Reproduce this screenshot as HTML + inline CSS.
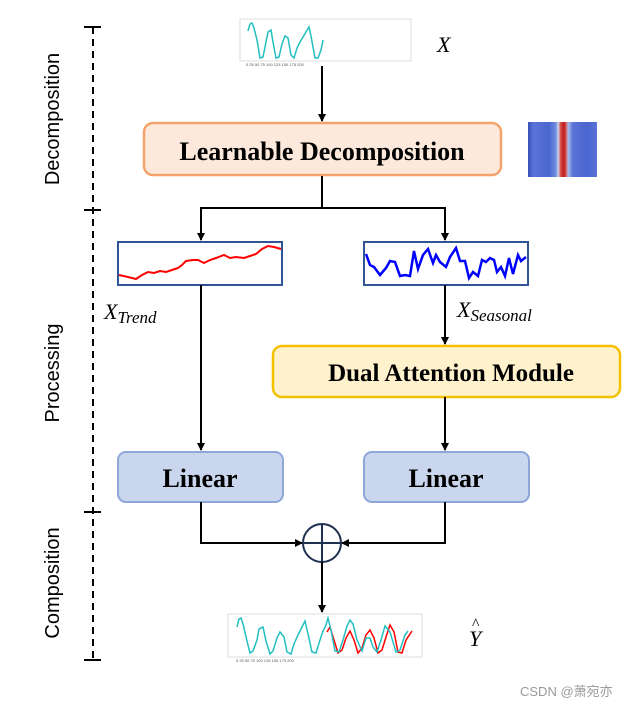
<!DOCTYPE html>
<html><head><meta charset="utf-8"><style>
body{margin:0;background:#fff;width:634px;height:705px;overflow:hidden}
svg{display:block}
</style></head><body>
<svg width="634" height="705" viewBox="0 0 634 705" xmlns="http://www.w3.org/2000/svg">
<defs>
<marker id="ar" markerWidth="8" markerHeight="8" refX="7" refY="4" orient="auto" markerUnits="userSpaceOnUse"><path d="M0,0 L8,4 L0,8 z" fill="#000"/></marker>
<linearGradient id="hm" x1="0" x2="1">
<stop offset="0" stop-color="#3a4fb8"/><stop offset="0.08" stop-color="#5b74d8"/><stop offset="0.3" stop-color="#4a66d0"/><stop offset="0.4" stop-color="#6e8ae0"/><stop offset="0.44" stop-color="#c9d6f2"/><stop offset="0.47" stop-color="#d9534f"/><stop offset="0.52" stop-color="#b81c1c"/><stop offset="0.55" stop-color="#d9534f"/><stop offset="0.58" stop-color="#a9bce8"/><stop offset="0.65" stop-color="#5b74d8"/><stop offset="0.85" stop-color="#4a66d0"/><stop offset="1" stop-color="#5a72d6"/>
</linearGradient>
</defs>
<!-- left axis -->
<line x1="93" y1="27" x2="93" y2="660" stroke="#000" stroke-width="2" stroke-dasharray="7,5"/>
<g stroke="#000" stroke-width="2"><line x1="84" y1="27" x2="101" y2="27"/><line x1="84" y1="210" x2="101" y2="210"/><line x1="84" y1="512" x2="101" y2="512"/><line x1="84" y1="660" x2="101" y2="660"/></g>
<g font-family="Liberation Sans, sans-serif" font-size="20" fill="#000" text-anchor="middle">
<text transform="translate(59,119) rotate(-90)">Decomposition</text>
<text transform="translate(59,373) rotate(-90)">Processing</text>
<text transform="translate(59,583) rotate(-90)">Composition</text>
</g>
<!-- top chart -->
<rect x="240" y="19" width="171" height="42" fill="none" stroke="#ddd"/>
<polyline fill="none" stroke="#22bfc0" stroke-width="1.5" points="248,31 250,24 252,23 254,28 257,40 260,58 263,57 266,42 268,32 271,30 273,42 276,58 279,57 282,44 285,36 288,38 291,55 294,58 297,48 300,42 303,37 306,32 309,27 311,36 315,58 318,58 321,50 323,40"/>
<g font-family="Liberation Sans, sans-serif" font-size="4" fill="#555"><text x="246" y="66">0  25  50  75  100  125  150  175  200</text></g>
<text x="437" y="52" font-family="Liberation Serif, serif" font-style="italic" font-size="22">X</text>
<line x1="322" y1="66" x2="322" y2="121" stroke="#000" stroke-width="2" marker-end="url(#ar)"/>
<!-- learnable decomposition -->
<rect x="144" y="123" width="357" height="52" rx="9" fill="#fde9dc" stroke="#f4a46a" stroke-width="2.5"/>
<text x="322" y="160" text-anchor="middle" font-family="Liberation Serif, serif" font-weight="bold" font-size="26">Learnable Decomposition</text>
<rect x="528" y="122" width="69" height="55" fill="url(#hm)"/>
<!-- split -->
<polyline points="322,176 322,208" fill="none" stroke="#000" stroke-width="2"/>
<line x1="201" y1="208" x2="445" y2="208" stroke="#000" stroke-width="2"/>
<line x1="201" y1="207" x2="201" y2="240" stroke="#000" stroke-width="2" marker-end="url(#ar)"/>
<line x1="445" y1="207" x2="445" y2="240" stroke="#000" stroke-width="2" marker-end="url(#ar)"/>
<!-- trend box -->
<rect x="118" y="242" width="164" height="43" fill="#fff" stroke="#2f5597" stroke-width="2"/>
<polyline fill="none" stroke="#f00" stroke-width="2" points="119,275 128,277 136,279 142,275 148,272 154,273 160,271 166,272 172,270 178,268 182,265 186,261 193,260 198,260 204,263 210,260 216,258 224,255 230,258 236,257 244,258 250,256 256,254 262,249 268,246 274,247 281,249"/>
<rect x="364" y="242" width="164" height="43" fill="#fff" stroke="#2f5597" stroke-width="2"/>
<polyline fill="none" stroke="#00f" stroke-width="2.5" points="366,254 370,265 374,267 380,275 386,268 390,261 395,262 400,276 405,275 410,276 414,251 418,269 423,255 428,249 433,263 436,255 440,262 446,267 450,257 456,248 460,261 465,261 469,278 473,272 478,276 482,260 486,262 490,258 494,260 497,272 501,267 505,276 509,258 513,274 518,255 521,261 526,257"/>
<text x="104" y="319" font-family="Liberation Serif, serif" font-style="italic" font-size="22">X<tspan font-size="17" dy="4">Trend</tspan></text>
<text x="457" y="317" font-family="Liberation Serif, serif" font-style="italic" font-size="22">X<tspan font-size="17" dy="4">Seasonal</tspan></text>
<line x1="201" y1="285" x2="201" y2="450" stroke="#000" stroke-width="2" marker-end="url(#ar)"/>
<line x1="445" y1="285" x2="445" y2="344" stroke="#000" stroke-width="2" marker-end="url(#ar)"/>
<!-- dual attention -->
<rect x="273" y="346" width="347" height="51" rx="9" fill="#fff2cc" stroke="#f5c000" stroke-width="2.5"/>
<text x="451" y="381" text-anchor="middle" font-family="Liberation Serif, serif" font-weight="bold" font-size="25">Dual Attention Module</text>
<line x1="445" y1="397" x2="445" y2="450" stroke="#000" stroke-width="2" marker-end="url(#ar)"/>
<!-- linear -->
<rect x="118" y="452" width="165" height="50" rx="8" fill="#c9d6ee" stroke="#8ea6d8" stroke-width="2"/>
<text x="200" y="487" text-anchor="middle" font-family="Liberation Serif, serif" font-weight="bold" font-size="26">Linear</text>
<rect x="364" y="452" width="165" height="50" rx="8" fill="#c9d6ee" stroke="#8ea6d8" stroke-width="2"/>
<text x="446" y="487" text-anchor="middle" font-family="Liberation Serif, serif" font-weight="bold" font-size="26">Linear</text>
<polyline points="201,502 201,543 302,543" fill="none" stroke="#000" stroke-width="2" marker-end="url(#ar)"/>
<polyline points="445,502 445,543 342,543" fill="none" stroke="#000" stroke-width="2" marker-end="url(#ar)"/>
<circle cx="322" cy="543" r="19" fill="#fff" stroke="#1f3050" stroke-width="2"/>
<line x1="303" y1="543" x2="341" y2="543" stroke="#1f3050" stroke-width="2"/>
<line x1="322" y1="524" x2="322" y2="562" stroke="#1f3050" stroke-width="2"/>
<line x1="322" y1="562" x2="322" y2="612" stroke="#000" stroke-width="2" marker-end="url(#ar)"/>
<!-- bottom chart -->
<rect x="228" y="614" width="194" height="43" fill="none" stroke="#ddd"/>
<polyline fill="none" stroke="#f00" stroke-width="1.5" points="327,632 330,627 334,640 338,653 342,650 346,638 350,631 354,640 358,653 362,648 366,635 370,630 374,638 378,653 382,650 386,637 390,625 394,632 398,652 402,653 406,640 412,631"/>
<polyline fill="none" stroke="#22bfc0" stroke-width="1.5" points="237,627 239,619 241,618 243,624 247,641 250,653 253,651 257,640 259,629 263,627 266,641 270,654 273,651 277,638 280,632 284,637 287,652 291,654 294,644 298,635 302,627 305,621 308,634 312,652 316,653 320,640 323,631 326,625 328,618 331,630 335,651 339,652 343,640 347,626 350,620 353,624 357,640 362,651 366,638 370,638 373,647 377,652 381,640 385,626 390,632 396,652 400,650 405,635 408,631"/>
<g font-family="Liberation Sans, sans-serif" font-size="4" fill="#555"><text x="236" y="662">0  25  50  75  100  125  150  175  200</text></g>
<text x="469" y="646" font-family="Liberation Serif, serif" font-style="italic" font-size="22">Y</text>
<text x="472" y="629" font-family="Liberation Serif, serif" font-size="16">^</text>
<text x="520" y="696" font-family="Liberation Sans, 'Noto Sans CJK SC', sans-serif" font-size="13" fill="#999">CSDN @萧宛亦</text>
</svg>
</body></html>
